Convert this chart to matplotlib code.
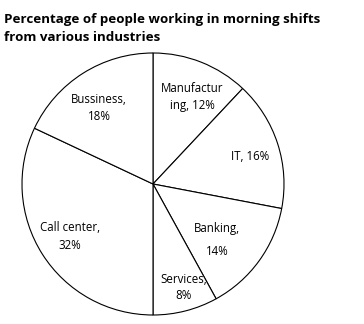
import numpy as np
import matplotlib
matplotlib.use("Agg")
import matplotlib.pyplot as plt

plt.rcParams['font.family'] = ['Open Sans', 'DejaVu Sans']

labels = ["Manufactur\ning, 12%", "IT, 16%", "Banking,\n14%", "Services,\n8%",
          "Call center,\n32%", "Bussiness,\n18%"]
shares = [12, 16, 14, 8, 32, 18]
label_dist = [0.73, 0.77, 0.65, 0.82, 0.75, 0.71]
label_shift = [-2.5, -2, -5, 2, 0, 3]  # degrees
line_gap = [1.4, 1.4, 2.0, 1.3, 1.45, 1.4]

fig = plt.figure(figsize=(3.64, 3.24), dpi=100)
ax = fig.add_axes([(153 - 131) / 364, (324 - 184 - 131) / 324, 262 / 364, 262 / 324])

wedges, _ = ax.pie(shares, startangle=90, counterclock=False, radius=1,
                   colors=["white"] * len(shares),
                   wedgeprops=dict(edgecolor="black", linewidth=0.8))
ax.set_xlim(-1, 1)
ax.set_ylim(-1, 1)
ax.set_aspect('equal')

for w, lab, d, s, g in zip(wedges, labels, label_dist, label_shift, line_gap):
    ang = np.deg2rad((w.theta1 + w.theta2) / 2 + s)
    ax.text(d * np.cos(ang), d * np.sin(ang), lab, ha='center', va='center',
            fontsize=8.3, linespacing=g)

fig.text(0.012, 0.96, "Percentage of people working in morning shifts\nfrom various industries",
         ha='left', va='top', fontsize=9.6, fontweight='bold', linespacing=1.55)

fig.savefig("out.png", dpi=100, facecolor="white")
